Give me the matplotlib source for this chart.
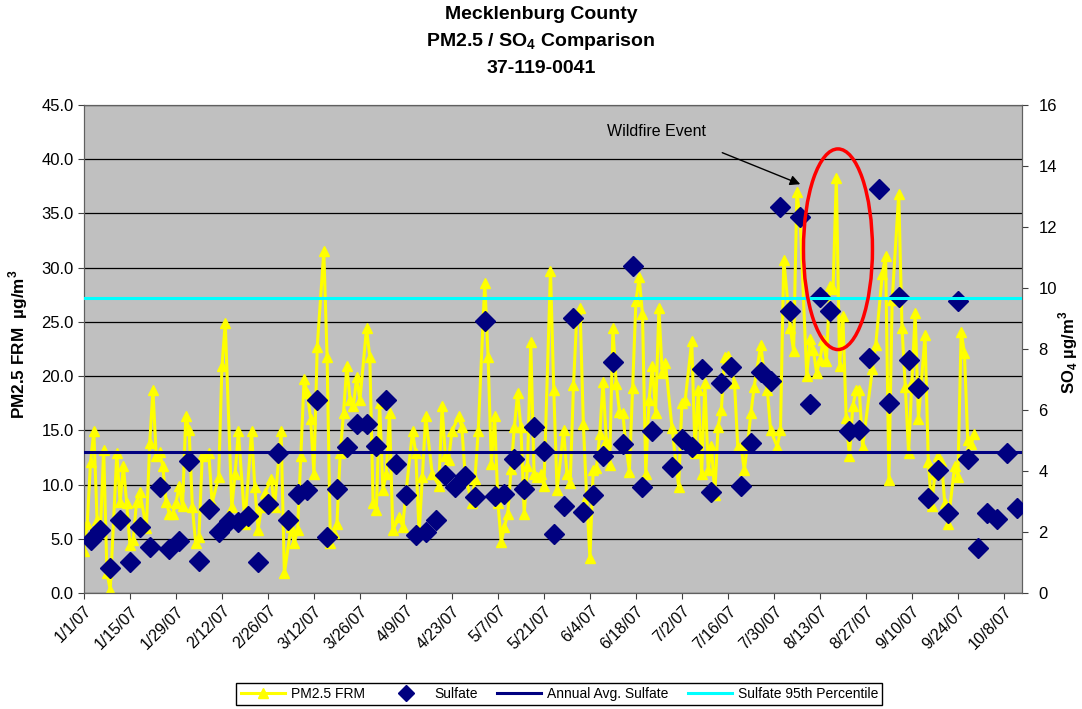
import numpy as np
import matplotlib
matplotlib.use("Agg")
import matplotlib.pyplot as plt
import matplotlib.dates as mdates
from matplotlib.patches import Ellipse
from matplotlib.lines import Line2D
from matplotlib.ticker import FuncFormatter, FormatStrFormatter

plt.rcParams['font.family'] = ['Liberation Sans', 'DejaVu Sans']
plt.rcParams['mathtext.fontset'] = 'custom'
plt.rcParams['mathtext.rm'] = 'Liberation Sans'
plt.rcParams['mathtext.bf'] = 'Liberation Sans:bold'

start = np.datetime64('2007-01-01')

# PM2.5 FRM daily values, day offset from 1/1/07 (ug/m3)
pm_day = [0, 1, 2, 3, 4, 5, 6, 7, 8, 10,
          11, 12, 13, 14, 15, 16, 17, 19, 20, 21,
          22, 23, 24, 25, 26, 27, 28, 29, 30, 31,
          32, 33, 34, 35, 36, 38, 39, 41, 42, 43,
          45, 46, 47, 49, 51, 52, 53, 54, 55, 57,
          58, 60, 61, 63, 64, 65, 66, 67, 68, 69,
          70, 71, 73, 74, 75, 76, 77, 78, 79, 80,
          81, 82, 83, 84, 86, 87, 88, 89, 90, 91,
          92, 93, 94, 96, 97, 98, 100, 101, 102, 103,
          104, 106, 108, 109, 110, 111, 112, 114, 115, 116,
          118, 119, 120, 122, 123, 124, 125, 126, 127, 128,
          129, 130, 131, 132, 133, 134, 135, 136, 137, 138,
          139, 140, 142, 143, 144, 146, 147, 148, 149, 150,
          151, 152, 153, 154, 155, 156, 157, 158, 159, 160,
          161, 162, 163, 164, 165, 166, 167, 168, 169, 170,
          171, 172, 173, 174, 175, 176, 177, 179, 181, 182,
          183, 185, 186, 187, 188, 189, 190, 191, 192, 193,
          194, 195, 196, 198, 199, 200, 201, 202, 203, 204,
          206, 207, 208, 209, 211, 212, 213, 215, 216, 217,
          218, 220, 221, 222, 223, 224, 225, 226, 227, 228,
          229, 230, 231, 232, 233, 234, 235, 236, 237, 240,
          241, 243, 244, 245, 246, 248, 249, 250, 251, 252,
          253, 254, 256, 257, 258, 259, 260, 261, 262, 263,
          265, 266, 267, 268, 269, 270, 271]
pm_val = [3.9, 6.4, 12.1, 14.9, 6.7, 5.8, 13.2, 1.8, 0.3, 12.9,
          8.4, 11.7, 8.3, 4.4, 4.9, 8.4, 9.3, 6.0, 13.8, 18.7,
          12.6, 13.0, 11.7, 8.4, 7.3, 7.3, 8.3, 9.9, 8.0, 16.3,
          15.0, 7.9, 4.6, 5.2, 12.6, 12.9, 8.3, 10.7, 20.9, 24.9,
          7.9, 11.0, 14.9, 6.4, 14.9, 9.8, 5.8, 7.9, 9.2, 10.5,
          7.9, 14.9, 1.8, 6.1, 4.6, 5.8, 12.6, 19.7, 18.4, 16.0,
          11.0, 22.7, 31.5, 21.8, 4.6, 5.5, 6.4, 12.9, 16.6, 20.9,
          17.8, 17.2, 19.9, 17.8, 24.4, 21.8, 8.3, 7.7, 17.5, 9.5,
          11.0, 16.6, 5.8, 7.0, 6.1, 9.2, 14.9, 12.9, 5.5, 10.7,
          16.3, 11.0, 9.9, 17.2, 12.6, 12.3, 14.9, 16.3, 15.3, 11.0,
          8.3, 10.5, 14.9, 28.6, 21.8, 11.9, 16.3, 8.3, 4.7, 6.1,
          7.3, 11.4, 15.3, 18.4, 15.3, 7.3, 11.7, 23.1, 11.0, 10.7,
          11.0, 9.9, 29.7, 18.7, 9.5, 15.0, 11.0, 10.1, 19.2, 25.5,
          26.3, 15.6, 8.9, 3.2, 11.3, 11.5, 14.7, 19.5, 14.0, 11.8,
          24.4, 19.3, 16.7, 16.6, 13.5, 11.2, 18.9, 26.9, 29.1, 25.7,
          11.0, 17.8, 20.9, 16.6, 26.3, 20.3, 21.2, 15.2, 9.8, 17.5,
          17.8, 23.2, 12.9, 18.7, 11.0, 19.4, 11.3, 13.6, 9.0, 15.3,
          16.9, 21.8, 21.9, 19.4, 13.5, 13.5, 11.3, 13.8, 16.6, 19.0,
          22.9, 20.3, 18.7, 15.0, 13.5, 15.0, 30.7, 24.4, 22.3, 37.0,
          34.4, 20.0, 23.4, 22.4, 20.3, 21.5, 23.3, 21.4, 28.3, 28.0,
          38.3, 20.9, 25.5, 16.1, 12.6, 17.2, 18.7, 18.7, 13.5, 20.7,
          22.9, 29.4, 31.1, 10.4, 27.0, 36.8, 24.4, 19.0, 12.9, 19.5,
          25.8, 16.0, 23.8, 12.1, 8.0, 11.0, 12.6, 12.2, 8.3, 6.4,
          11.7, 10.7, 24.1, 22.1, 14.1, 13.7, 14.7]

# sulfate, every third day (ug/m3)
so4_day = [2, 5, 8, 11, 14, 17, 20, 23, 26, 29,
           32, 35, 38, 41, 44, 47, 50, 53, 56, 59,
           62, 65, 68, 71, 74, 77, 80, 83, 86, 89,
           92, 95, 98, 101, 104, 107, 110, 113, 116, 119,
           122, 125, 128, 131, 134, 137, 140, 143, 146, 149,
           152, 155, 158, 161, 164, 167, 170, 173, 179, 182,
           185, 188, 191, 194, 197, 200, 203, 206, 209, 212,
           215, 218, 221, 224, 227, 233, 236, 239, 242, 245,
           248, 251, 254, 257, 260, 263, 266, 269, 272, 275,
           278, 281, 284]
so4_val = [1.75, 2.08, 0.82, 2.41, 1.02, 2.15, 1.51, 3.48, 1.43, 1.70,
           4.33, 1.04, 2.74, 2.00, 2.36, 2.33, 2.51, 1.02, 2.91, 4.58,
           2.41, 3.26, 3.39, 6.33, 1.82, 3.41, 4.80, 5.53, 5.53, 4.82,
           6.33, 4.22, 3.21, 1.90, 2.00, 2.41, 3.87, 3.48, 3.85, 3.16,
           8.93, 3.17, 3.26, 4.41, 3.41, 5.45, 4.65, 1.95, 2.85, 9.01,
           2.66, 3.21, 4.50, 7.56, 4.88, 10.71, 3.48, 5.32, 4.14, 5.04,
           4.80, 7.34, 3.32, 6.90, 7.42, 3.51, 4.93, 7.25, 6.96, 12.66,
           9.23, 12.33, 6.20, 9.69, 9.23, 5.32, 5.34, 7.72, 13.23, 6.22,
           9.70, 7.64, 6.71, 3.13, 4.03, 2.61, 9.59, 4.41, 1.49, 2.61,
           2.44, 4.60, 2.79]

so4_annual_avg = 4.61
so4_95th = 9.67

pm_dates = start + np.array(pm_day)
so4_dates = start + np.array(so4_day)
x0 = mdates.date2num(start)

fig = plt.figure(figsize=(10.82, 7.09), dpi=100)
ax = fig.add_axes([0.0776, 0.1636, 0.8669, 0.6883])
ax.set_facecolor('#C0C0C0')
ax.set_axisbelow(True)
ax.grid(axis='y', color='black', lw=0.9)

ax.plot(pm_dates, pm_val, color='#FFFF00', lw=2.2, marker='^', ms=6.5, zorder=2)

ax.set_ylim(0, 45)
ax.set_yticks(np.arange(0, 46, 5))
ax.yaxis.set_major_formatter(FormatStrFormatter('%.1f'))
ax.set_xlim(x0, x0 + 285.5)
ax.set_xticks(x0 + np.arange(0, 281, 14))


def date_label(v, pos):
    d = mdates.num2date(v)
    return f"{d.month}/{d.day}/{d:%y}"


ax.xaxis.set_major_formatter(FuncFormatter(date_label))
for lab in ax.get_xticklabels():
    lab.set_rotation(45)
    lab.set_ha('right')
    lab.set_rotation_mode('anchor')
ax.tick_params(axis='x', labelsize=11.5, direction='out', length=4, color='#404040')
ax.tick_params(axis='y', labelsize=12, direction='out', length=4, color='#404040')

ax2 = ax.twinx()
ax2.set_ylim(0, 16)
ax2.set_yticks(np.arange(0, 17, 2))
ax2.tick_params(axis='y', labelsize=12, direction='out', length=4, pad=8, color='#404040')
ax2.plot(so4_dates, so4_val, ls='none', marker='D', ms=10, color='#000080', zorder=3)
ax2.axhline(so4_annual_avg, color='#000080', lw=2.2, zorder=4)
ax2.axhline(so4_95th, color='#00FFFF', lw=2.2, zorder=4)

for a in (ax, ax2):
    for s in a.spines.values():
        s.set_color('#606060')

# wildfire annotation
ax2.add_patch(Ellipse((x0 + 229.5, 31.7), 21, 18.5, transform=ax.transData,
                      fill=False, edgecolor='red', lw=2.5, zorder=6))
ax2.annotate('', xy=(x0 + 218.8, 37.6), xytext=(x0 + 193.5, 40.7),
             xycoords=ax.transData, textcoords=ax.transData,
             arrowprops=dict(arrowstyle='-|>', color='black', lw=1, mutation_scale=15))
ax.text(x0 + 174.4, 42.6, 'Wildfire Event', ha='center', va='center', fontsize=11.5)

fig.text(0.5, 0.979, 'Mecklenburg County', ha='center', va='center', fontsize=14, weight='bold')
fig.text(0.5, 0.941, r'PM2.5 / SO$_\mathbf{4}$ Comparison', ha='center', va='center', fontsize=14, weight='bold')
fig.text(0.5, 0.903, '37-119-0041', ha='center', va='center', fontsize=14, weight='bold')
fig.text(0.017, 0.515, r'PM2.5 FRM  µg/m$^\mathbf{3}$', rotation=90, ha='center', va='center',
         fontsize=12.3, weight='bold')
fig.text(0.987, 0.503, r'SO$_\mathbf{4}$ µg/m$^\mathbf{3}$', rotation=90, ha='center', va='center',
         fontsize=12, weight='bold')

handles = [Line2D([], [], color='#FFFF00', lw=2.2, marker='^', ms=6.5),
           Line2D([], [], color='#000080', ls='none', marker='D', ms=8),
           Line2D([], [], color='#000080', lw=2.2),
           Line2D([], [], color='#00FFFF', lw=2.2)]
labels = ['PM2.5 FRM', 'Sulfate', 'Annual Avg. Sulfate', 'Sulfate 95th Percentile']
leg = fig.legend(handles, labels, loc='center', bbox_to_anchor=(0.517, 0.021), ncol=4,
                 fontsize=10, frameon=True, fancybox=False, edgecolor='black', framealpha=1,
                 handlelength=3.2, columnspacing=1.4, handletextpad=0.4, borderpad=0.3)
leg.get_frame().set_linewidth(1)

fig.savefig('out.png', dpi=100)
